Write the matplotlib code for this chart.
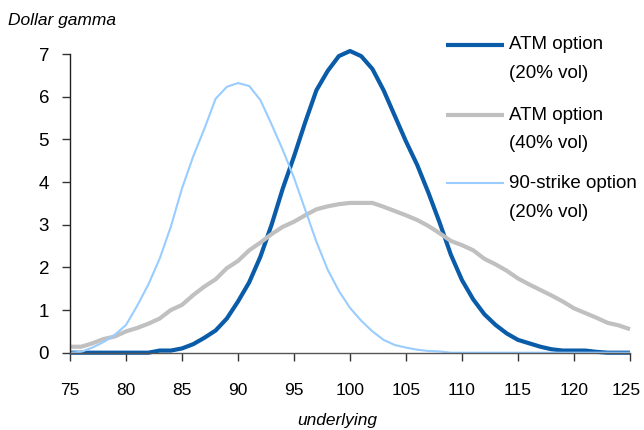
import matplotlib
matplotlib.use("Agg")
import matplotlib.pyplot as plt
import matplotlib.transforms as mtransforms
from matplotlib import font_manager
from matplotlib.lines import Line2D

names = {f.name for f in font_manager.fontManager.ttflist}
if "Liberation Sans Narrow" in names:
    FAM = ["Liberation Sans Narrow", "DejaVu Sans"]
    FS = 14.5
    XFS = 14.5
else:
    FAM = ["Liberation Sans", "DejaVu Sans"]
    FS = 13.5
    XFS = 12.5
plt.rcParams['font.family'] = FAM

underlying = list(range(75, 126))
atm_20 = [0, 0, 0, 0, 0, 0, 0, 0, 0.05, 0.05, 0.1, 0.2, 0.35, 0.52, 0.8, 1.2, 1.65, 2.25, 3.0, 3.85,
          4.6, 5.4, 6.15, 6.6, 6.95, 7.07, 6.95, 6.65, 6.15, 5.55, 4.95, 4.4, 3.75, 3.05, 2.3, 1.7,
          1.25, 0.9, 0.65, 0.45, 0.3, 0.22, 0.14, 0.08, 0.05, 0.05, 0.05, 0.02, 0, 0, 0]
atm_40 = [0.14, 0.14, 0.22, 0.32, 0.38, 0.5, 0.58, 0.68, 0.8, 1.0, 1.12, 1.35, 1.55, 1.72, 1.98,
          2.15, 2.4, 2.58, 2.78, 2.95, 3.07, 3.22, 3.36, 3.43, 3.48, 3.51, 3.51, 3.51, 3.42, 3.32,
          3.22, 3.11, 2.97, 2.8, 2.62, 2.52, 2.4, 2.2, 2.07, 1.92, 1.74, 1.6, 1.47, 1.34, 1.2, 1.04,
          0.93, 0.82, 0.7, 0.64, 0.55]
strike90_20 = [0, 0.02, 0.12, 0.25, 0.42, 0.65, 1.1, 1.6, 2.2, 2.95, 3.85, 4.6, 5.25, 5.95, 6.23,
               6.32, 6.25, 5.92, 5.35, 4.75, 4.1, 3.35, 2.6, 1.95, 1.45, 1.05, 0.75, 0.5, 0.3, 0.18,
               0.12, 0.07, 0.04, 0.03, 0, 0, 0, 0, 0, 0, 0, 0, 0, 0, 0, 0, 0, 0, 0, 0, 0]

labels = [("ATM option", "(20% vol)"), ("ATM option", "(40% vol)"), ("90-strike option", "(20% vol)")]
colors = ["#0A5CA8", "#C0C0C0", "#99CCFF"]
widths = [3.0, 3.0, 1.5]
series = [atm_20, atm_40, strike90_20]
xticks = list(range(75, 126, 5))
yticks = list(range(0, 8))

W, H = 644, 430
fig = plt.figure(figsize=(6.44, 4.30), dpi=100)
ax = fig.add_axes([70 / W, 1 - 352.7 / H, 560 / W, (352.7 - 54) / H])

for ys, c, lw in zip(series, colors, widths):
    ax.plot(underlying, ys, color=c, lw=lw, clip_on=False, solid_capstyle='butt', solid_joinstyle='round')

ax.set_xlim(75, 125)
ax.set_ylim(0, 7)
ax.set_xticks(xticks)
ax.set_yticks(yticks)
ax.tick_params(axis='x', direction='out', length=6, width=1, pad=16, labelsize=XFS, color='#333333')
ax.tick_params(axis='y', direction='out', length=6, width=1, pad=9, labelsize=FS, color='#333333')
for s in ['top', 'right']:
    ax.spines[s].set_visible(False)
ax.spines['left'].set_color('#222222')
ax.spines['bottom'].set_color('#555555')
ax.spines['left'].set_linewidth(1)
ax.spines['bottom'].set_linewidth(1)

# nudge the last x label so it stays inside the figure
fig.canvas.draw()
last = ax.get_xticklabels()[-1]
last.set_transform(last.get_transform() + mtransforms.ScaledTranslation(-4 / 100, 0, fig.dpi_scale_trans))

fig.text(8 / W, 1 - 20 / H, "Dollar gamma", style='italic', fontsize=12.5, ha='left', va='center')
fig.text(337 / W, 1 - 420 / H, "underlying", style='italic', fontsize=12.5, ha='center', va='center')

# legend drawn manually
y0s = [44.5, 115, 183]
for (l1, l2), c, lw, y0 in zip(labels, colors, widths, y0s):
    fig.add_artist(Line2D([446 / W, 504 / W], [1 - y0 / H, 1 - y0 / H], color=c, lw=lw,
                          transform=fig.transFigure, solid_capstyle='butt'))
    fig.text(509 / W, 1 - y0 / H, l1, fontsize=FS, ha='left', va='center')
    fig.text(509 / W, 1 - (y0 + 29) / H, l2, fontsize=FS, ha='left', va='center')

fig.savefig("out.png", dpi=100)
